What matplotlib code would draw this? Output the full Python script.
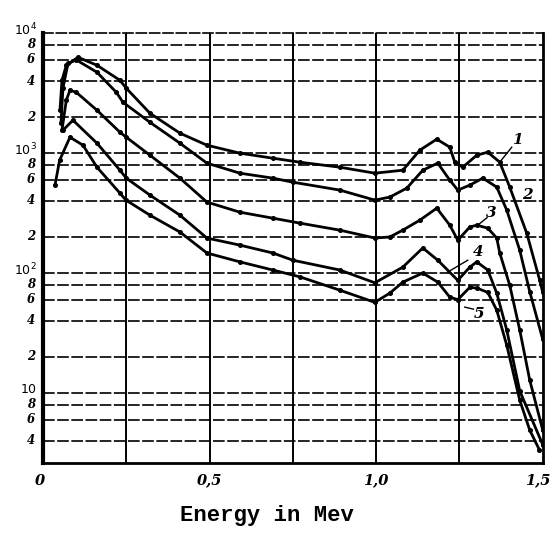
import numpy as np
import matplotlib.pyplot as plt

plt.rcParams['mathtext.default'] = 'it'

# spectra (energy in MeV, counts on log scale)
energy_1 = [0.051, 0.057, 0.07, 0.105, 0.162, 0.231, 0.25, 0.321, 0.411, 0.492, 0.591, 0.69,
            0.771, 0.891, 0.996, 1.08, 1.131, 1.182, 1.221, 1.236, 1.26, 1.302, 1.335, 1.371,
            1.401, 1.452, 1.491, 1.5]
counts_1 = [2282, 4055, 5400, 6310, 5412, 4055, 3481, 2154, 1468, 1166, 1000, 908,
            841, 764, 681, 721, 1059, 1309, 1122, 841, 764, 962, 1019, 841,
            521, 215, 87, 69]

energy_2 = [0.054, 0.06, 0.075, 0.1, 0.162, 0.22, 0.24, 0.321, 0.411, 0.492, 0.591, 0.69,
            0.75, 0.891, 0.996, 1.041, 1.092, 1.14, 1.185, 1.221, 1.245, 1.281, 1.32,
            1.362, 1.392, 1.431, 1.461, 1.5]
counts_2 = [1778, 3500, 5600, 6000, 4732, 3221, 2661, 1810, 1212, 826, 681, 619,
            573, 492, 406, 430, 511, 721, 826, 596, 492, 541, 619,
            521, 335, 155, 70, 28]

energy_3 = [0.057, 0.07, 0.081, 0.1, 0.162, 0.231, 0.25, 0.321, 0.411, 0.492, 0.591, 0.69,
            0.771, 0.891, 0.996, 1.041, 1.08, 1.131, 1.182, 1.221, 1.245, 1.281, 1.302,
            1.335, 1.362, 1.371, 1.401, 1.431, 1.461, 1.5]
counts_3 = [1555, 2766, 3350, 3221, 2282, 1496, 1359, 962, 619, 391, 322, 287,
            261, 228, 196, 200, 228, 276, 348, 251, 188, 242, 251,
            237, 196, 147, 79, 33.5, 12.8, 4.9]

energy_4 = [0.06, 0.09, 0.162, 0.231, 0.25, 0.321, 0.411, 0.492, 0.591, 0.69, 0.75, 0.891,
            0.996, 1.08, 1.14, 1.185, 1.245, 1.281, 1.302, 1.335, 1.362, 1.392, 1.431, 1.5]
counts_4 = [1555, 1884, 1212, 721, 619, 447, 304, 196, 171, 147, 128, 106,
            83, 112, 162, 128, 87, 112, 124, 106, 68, 33.5, 10.4, 3.7]

energy_5 = [0.036, 0.05, 0.081, 0.12, 0.162, 0.231, 0.249, 0.321, 0.411, 0.492, 0.591, 0.69,
            0.771, 0.891, 0.996, 1.041, 1.08, 1.14, 1.185, 1.221, 1.245, 1.281, 1.302,
            1.335, 1.362, 1.392, 1.431, 1.461, 1.49]
counts_5 = [541, 874, 1359, 1166, 764, 464, 406, 304, 220, 147, 124, 106,
            93, 72, 57, 68, 84, 100, 84, 63, 60, 76, 75,
            69, 49, 25, 8.7, 4.9, 3.35]

curve_labels = ['1', '2', '3', '4', '5']
label_pos = [(1.425, 1300), (1.455, 450), (1.345, 320), (1.305, 150), (1.31, 46)]
leader_from = [(1.371, 841), None, (1.305, 251), (1.215, 102), (1.266, 52)]
leader_to = [(1.407, 1122), None, (1.333, 290), (1.275, 128), (1.292, 50)]

x_ticks = [0, 0.5, 1.0, 1.5]
x_tick_labels = ['0', '0,5', '1,0', '1,5']
y_decades = [10, 100, 1000, 10000]
y_decade_labels = ['$10$', '$10^2$', '$10^3$', '$10^4$']
y_mults = [2, 4, 6, 8]

ymin, ymax = 2.61, 1e4

fig = plt.figure(figsize=(5.51, 5.37), dpi=100)
ax = fig.add_axes([0.078, 0.138, 0.907, 0.8])

ax.set_yscale('log')
ax.set_xlim(0, 1.5)
ax.set_ylim(ymin, ymax)

# grid: solid verticals every 0.25, broken horizontals at 2,4,6,8 x decade
for xv in np.arange(0.25, 1.5, 0.25):
    ax.axvline(xv, color='black', lw=1.4, zorder=1)
for dec in [1, 10, 100, 1000]:
    for m in [1] + y_mults:
        yv = m * dec
        if ymin < yv < ymax:
            ax.axhline(yv, color='black', lw=1.2, ls=(0, (7, 1.5)), zorder=1)

series = [(energy_1, counts_1), (energy_2, counts_2), (energy_3, counts_3),
          (energy_4, counts_4), (energy_5, counts_5)]
for e, c in series:
    ax.plot(e, c, color='black', lw=2.0, marker='o', ms=2.6, zorder=3)

for lab, pos, p0, p1 in zip(curve_labels, label_pos, leader_from, leader_to):
    ax.text(pos[0], pos[1], lab, fontsize=11, style='italic', weight='bold',
            family='DejaVu Serif', ha='center', va='center')
    if p0 is not None:
        ax.plot([p0[0], p1[0]], [p0[1], p1[1]], color='black', lw=1.0)

# axis frame
for side in ['left', 'bottom', 'right']:
    ax.spines[side].set_linewidth(2.0)
ax.spines['left'].set_linewidth(3.0)
ax.spines['top'].set_linewidth(1.2)
ax.spines['top'].set_linestyle((0, (6, 2)))

ax.set_xticks([])
ax.set_yticks([])
ax.minorticks_off()

# tick labels written by hand, like the scanned figure
xt = ax.get_xaxis_transform()
x_shift = [-0.01, 0.0, 0.0, -0.015]
for xv, lab, dx in zip(x_ticks, x_tick_labels, x_shift):
    ax.text(xv + dx, -0.025, lab, transform=xt, ha='center', va='top',
            fontsize=10.5, style='italic', weight='bold', family='DejaVu Serif')

yt = ax.get_yaxis_transform()
for dec, lab in zip(y_decades, y_decade_labels):
    ax.text(-0.012, dec * 1.06, lab, transform=yt, ha='right', va='center',
            fontsize=9, weight='bold', family='DejaVu Serif')
for dec in [1, 10, 100, 1000]:
    for m in y_mults:
        if ymin < m * dec < ymax:
            ax.text(-0.016, m * dec, str(m), transform=yt, ha='right', va='center',
                    fontsize=8.5, style='italic', weight='bold', family='DejaVu Serif')

fig.text(267 / 551, 1 - 515 / 537, 'Energy in Mev', ha='center', va='center',
         fontsize=16, family='Liberation Mono', weight='bold')

fig.savefig('out.png', dpi=100)
